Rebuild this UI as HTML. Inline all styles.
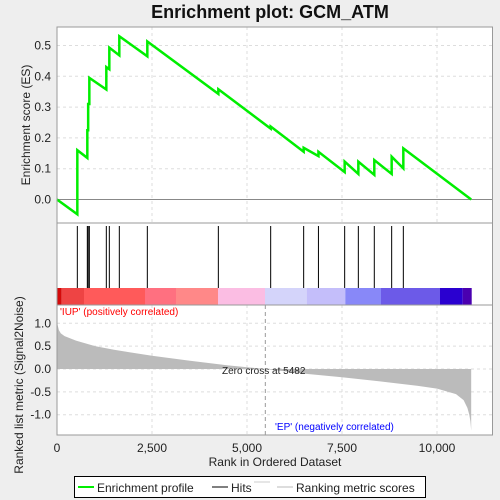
<!DOCTYPE html>
<html><head><meta charset="utf-8"><style>
body{margin:0;background:#eeeeee;}
svg{display:block;font-family:"Liberation Sans","DejaVu Sans",sans-serif;}
</style></head><body>
<svg id="c" width="500" height="500" xmlns="http://www.w3.org/2000/svg">
<rect width="500" height="500" fill="#eeeeee"/>
<text x="270" y="18" text-anchor="middle" font-size="18" font-weight="bold" fill="#111">Enrichment plot: GCM_ATM</text>
<rect x="57" y="27" width="435.5" height="408" fill="#fff"/>
<g id="grid"></g>
<g id="colorbar"></g>
<g id="metric"></g>
<g id="hits"></g>
<g id="es"></g>
<g id="frame" fill="none" stroke="#999">
<rect x="57" y="27" width="435.5" height="196"/>
<rect x="57" y="223" width="435.5" height="82"/>
<rect x="57" y="305" width="435.5" height="130"/>
</g>
<g id="axes" font-size="12" fill="#222"></g>
<text x="222" y="374" font-size="10" fill="#222">Zero cross at 5482</text>
<text x="60" y="315" font-size="10" fill="#ff0000">'IUP' (positively correlated)</text>
<text x="275" y="430" font-size="10" fill="#0000ff">'EP' (negatively correlated)</text>
<text x="275" y="466" text-anchor="middle" font-size="12" fill="#222">Rank in Ordered Dataset</text>
<text transform="translate(30,125) rotate(-90)" text-anchor="middle" font-size="12" fill="#222">Enrichment score (ES)</text>
<text transform="translate(23,385) rotate(-90)" text-anchor="middle" font-size="12" fill="#222">Ranked list metric (Signal2Noise)</text>
<g>
<rect x="74.5" y="476.5" width="351" height="21" fill="#fff" stroke="#000"/>
<line x1="78" y1="487" x2="94" y2="487" stroke="#00ee00" stroke-width="2"/>
<text x="97" y="492" font-size="12" fill="#222">Enrichment profile</text>
<line x1="212" y1="487" x2="228" y2="487" stroke="#000"/>
<text x="231" y="492" font-size="12" fill="#222">Hits</text>
<line x1="254" y1="482" x2="270" y2="482" stroke="#ccc"/>
<line x1="277" y1="487" x2="293" y2="487" stroke="#bbb"/>
<text x="296" y="492" font-size="12" fill="#222">Ranking metric scores</text>
</g>
</svg>
<script>
const hitRanks=[535,798,820,851,1298,1377,1640,2377,4246,5623,6491,6880,7570,7930,8350,8807,9114];
const esBefore=[-0.048,0.135,0.225,0.31,0.357,0.423,0.468,0.465,0.343,0.23,0.155,0.141,0.089,0.083,0.080,0.083,0.101];
const esAfter=[0.16,0.225,0.31,0.395,0.43,0.493,0.53,0.513,0.358,0.237,0.168,0.155,0.123,0.123,0.128,0.139,0.166];
const totalRanks=10900;
const metricRanks=[0,20,50,100,200,500,1000,1500,2500,3500,4500,5482,6500,7500,8500,9500,10000,10500,10700,10800,10850,10880,10900];
const metricVals=[1.05,0.95,0.85,0.78,0.72,0.62,0.5,0.42,0.29,0.18,0.08,0,-0.1,-0.18,-0.27,-0.37,-0.43,-0.55,-0.68,-0.85,-1.0,-1.15,-1.35];
const esTicks=[0,0.1,0.2,0.3,0.4,0.5];
const metricTicks=[-1,-0.5,0,0.5,1];
const xTicks=[0,2500,5000,7500,10000];
const zeroCross=5482;

const NS="http://www.w3.org/2000/svg";
const X=r=>57+r*0.038;
const YE=v=>199.5-v*308;
const YM=v=>369-v*45.7;
function mk(t,a,p){const e=document.createElementNS(NS,t);for(const k in a)e.setAttribute(k,a[k]);document.getElementById(p).appendChild(e);return e;}

// grid
xTicks.forEach(t=>{
 const g1=mk('line',{x1:X(t),x2:X(t),y1:27,y2:223,stroke:'#ddd','stroke-dasharray':'3,3'},'grid');
 
 
 const g2=mk('line',{x1:X(t),x2:X(t),y1:305,y2:435,stroke:'#ddd','stroke-dasharray':'3,3'},'grid');
 
 
 const tk=mk('text',{x:X(t),y:452,'text-anchor':'middle'},'axes');tk.textContent=t.toLocaleString('en-US');
 
 
});
esTicks.forEach(t=>{
 const g=mk('line',{x1:57,x2:492,y1:YE(t),y2:YE(t),stroke:t===0?'#888':'#ddd','stroke-dasharray':t===0?'':'3,3'},'grid');
 
 
 const tk=mk('text',{x:51,y:YE(t)+4,'text-anchor':'end'},'axes');tk.textContent=t.toFixed(1);
 
 
});
metricTicks.forEach(t=>{
 const g=mk('line',{x1:57,x2:492,y1:YM(t),y2:YM(t),stroke:'#ddd','stroke-dasharray':'3,3'},'grid');
 
 
 const tk=mk('text',{x:51,y:YM(t)+4,'text-anchor':'end'},'axes');tk.textContent=t.toFixed(1);
 
 
});
const zc=mk('line',{x1:X(zeroCross),x2:X(zeroCross),y1:305,y2:435,stroke:'#999','stroke-dasharray':'4,3'},'grid');



// colorbar (visual bands)
[[57,61.7,'#d40a0a'],[61.7,84,'#ee4444'],[84,145,'#ff5a5a'],[145,176,'#ff7080'],[176,218,'#ff8888'],[218,265,'#fbbde3'],[265,306.7,'#d4d4fa'],[306.7,345.3,'#c4befa'],[345.3,381,'#8888f8'],[381,440,'#6c5ae8'],[440,462.7,'#2a00d0'],[462.7,471.7,'#4a00b0']].forEach(s=>{
 const r=mk('rect',{x:s[0],y:288,width:s[1]-s[0],height:17,fill:s[2]},'colorbar');
 
 
});

// metric area
let d='M'+X(0)+','+YM(0);
metricRanks.forEach((r,i)=>{d+=' L'+X(r)+','+YM(metricVals[i]);});
d+=' L'+X(totalRanks)+','+YM(0)+' Z';
const ma=mk('path',{d:d,fill:'#bbbbbb'},'metric');



// hits
hitRanks.forEach(r=>{
 const l=mk('line',{x1:X(r),x2:X(r),y1:226,y2:288,stroke:'#000'},'hits');
 
 
});

// ES line
let p='M'+X(0)+','+YE(0);
hitRanks.forEach((r,i)=>{p+=' L'+X(r)+','+YE(esBefore[i])+' L'+X(r)+','+YE(esAfter[i]);});
p+=' L'+X(totalRanks)+','+YE(0);
const es=mk('path',{d:p,fill:'none',stroke:'#00ee00','stroke-width':2.5},'es');


</script>
</body></html>
